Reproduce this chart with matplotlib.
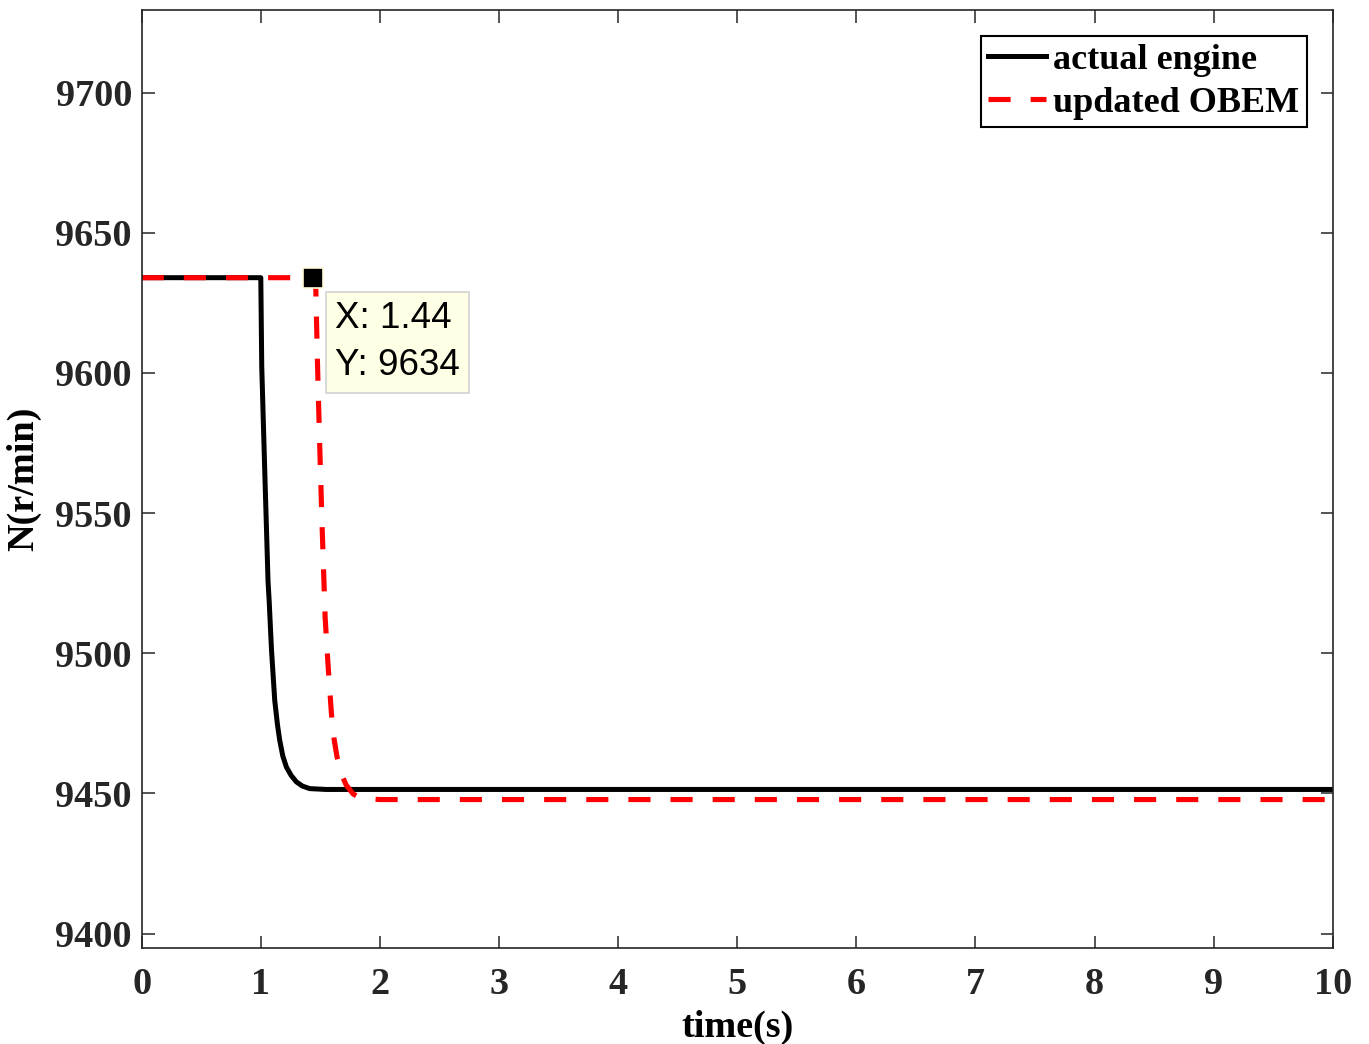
import matplotlib
matplotlib.use('Agg')
import matplotlib.pyplot as plt

# speed response, actual engine vs updated on-board engine model
t_engine = [0, 1.0, 1.008, 1.034, 1.061, 1.070, 1.090, 1.117, 1.140, 1.159,
            1.185, 1.215, 1.255, 1.299, 1.350, 1.411, 1.55, 2.0, 10]
n_engine = [9634, 9634, 9602.3, 9563.9, 9525.4, 9518.9, 9501.1, 9483.2, 9474.5,
            9468.9, 9463.3, 9459.4, 9456.4, 9454.1, 9452.6, 9451.7, 9451.4,
            9451.4, 9451.4]

t_obem = [0, 1.44, 1.462, 1.475, 1.495, 1.515, 1.54, 1.564, 1.593, 1.615,
          1.640, 1.675, 1.718, 1.775, 1.844, 2.0, 10]
n_obem = [9634, 9634, 9630, 9605, 9573.6, 9545, 9513, 9496.3, 9478.5, 9469.5,
          9463, 9457, 9452.9, 9449.8, 9448.2, 9447.8, 9447.8]

tip_x = 1.44
tip_y = 9634

x_ticks = list(range(0, 11))
y_ticks = [9400, 9450, 9500, 9550, 9600, 9650, 9700]

AX_COLOR = '#262626'
SERIF = ['Liberation Serif', 'DejaVu Serif']

plt.rcParams['font.family'] = SERIF
plt.rcParams['font.weight'] = 'bold'

fig = plt.figure(figsize=(13.69, 10.44), dpi=100)
ax = fig.add_axes([0.1035, 0.0924, 0.87, 0.898])

ax.plot(t_engine, n_engine, color='black', lw=3.6, label='actual engine',
        solid_joinstyle='round')
ax.plot(t_obem, n_obem, color=(1, 0, 0), lw=3.7, ls=(0, (4.3, 3.9)),
        label='updated OBEM')

# data tip
ax.plot([tip_x], [tip_y], marker='s', ms=14, color='black',
        markeredgecolor='#fff8d8', markeredgewidth=1.2, zorder=5)
ax.annotate(f'X: {tip_x:.2f}\nY: {tip_y:.0f}', xy=(tip_x, tip_y),
            xytext=(16, -17), textcoords='offset points', ha='left', va='top',
            family=['Liberation Sans', 'DejaVu Sans'], fontweight='normal',
            fontsize=26.5, color='black', linespacing=1.45,
            bbox=dict(boxstyle='square,pad=0.25', fc='#ffffe6', ec='#d2d2d2', lw=1.2),
            zorder=6)

ax.set_xlim(0, 10)
ax.set_ylim(9395, 9729.5)
ax.set_xticks(x_ticks)
ax.set_yticks(y_ticks)

for s in ax.spines.values():
    s.set_color(AX_COLOR)
    s.set_linewidth(1.2)
ax.tick_params(direction='in', length=9, width=1.1, colors=AX_COLOR,
               top=True, right=True, labelsize=27.5)
ax.tick_params(axis='x', pad=14)
ax.tick_params(axis='y', pad=7)

ax.set_xlabel('time(s)', fontsize=27.5, fontweight='bold', labelpad=6)
ax.set_ylabel('N(r/min)', fontsize=27.5, fontweight='bold', labelpad=10)

leg = ax.legend(loc='upper right', fontsize=26, frameon=True, fancybox=False,
                framealpha=1, edgecolor='black', borderaxespad=0.72,
                handlelength=1.6, handletextpad=0.2, labelspacing=0.27,
                borderpad=0.2)
leg.get_frame().set_linewidth(1.5)

fig.savefig('out.png', dpi=100)
